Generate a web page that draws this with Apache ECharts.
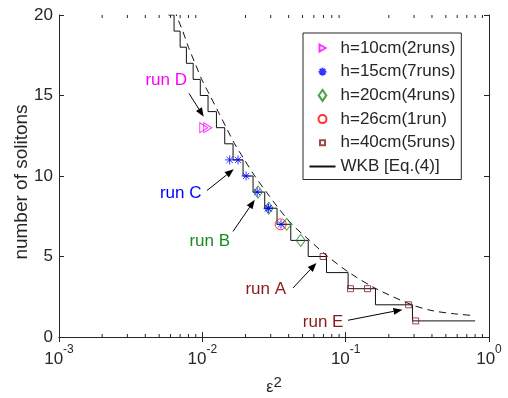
<!DOCTYPE html>
<html>
<head>
<meta charset="utf-8">
<script src="https://cdn.jsdelivr.net/npm/echarts@6/dist/echarts.min.js"></script>
<style>html,body{margin:0;padding:0;background:#fff}#c{width:508px;height:398px}</style>
</head>
<body>
<div id="c"></div>
<script>
// ---- data ----
const yMin = 0, yMax = 20;
const xTicksMinor = [0.002,0.003,0.004,0.005,0.006,0.007,0.008,0.009,
  0.02,0.03,0.04,0.05,0.06,0.07,0.08,0.09,
  0.2,0.3,0.4,0.5,0.6,0.7,0.8,0.9];
// WKB staircase: level N spans [stepLeft[i], stepRight[i]]
const stepLevels = [20,19,18,17,16,15,14,13,12,11,10,9,8,7,6,5,4,3,2,1];
const stepLeft  = [0.00579,0.00635,0.00700,0.00774,0.00863,0.00968,0.01096,0.01254,0.01433,0.01638,0.01923,0.02259,0.02725,0.0332,0.0414,0.0548,0.0735,0.104,0.1614,0.2924];
const stepRight = [0.00635,0.00700,0.00774,0.00863,0.00968,0.01096,0.01254,0.01433,0.01638,0.01923,0.02259,0.02725,0.0332,0.0414,0.0548,0.0735,0.104,0.1614,0.2924,0.8];
// dashed continuous curve
const dashX = [0.0055,0.0066,0.0073,0.0080,0.0089,0.0099,0.0113,0.0129,0.0147,0.0168,0.0197,0.0232,0.0280,0.0340,0.0422,0.0560,0.0750,0.106,0.163,0.29,0.40,0.55,0.78];
const dashY = [22.5,20,19,18,17,16,15,14,13,12,11,10,9,8,7,6,5,4,3,2.0,1.64,1.46,1.33];
// measurements
const h10x = [0.01023,0.01091];            const h10y = [13,13];
const h15x = [0.01552,0.01774,0.0202,0.02415,0.02874,0.0290,0.0354]; const h15y = [11,11,10,9,8,8,7];
const h20x = [0.02447,0.02906,0.0388,0.0486]; const h20y = [9,8,7,6];
const h26x = [0.0352];                      const h26y = [7];
const h40x = [0.0696,0.108,0.142,0.275,0.308]; const h40y = [5,3,3,2,1];
const seriesNames = ['h=10cm(2runs)','h=15cm(7runs)','h=20cm(4runs)','h=26cm(1run)','h=40cm(5runs)','WKB [Eq.(4)]'];
// annotations (data coordinates)
const annText  = ['run D','run C','run B','run A','run E'];
const annColor = ['#ff00ff','#0000ff','#1a8c1a','#8b1a1a','#8b1a1a'];
const annTextAt = [[0.0056,15.95],[0.00706,8.95],[0.01127,5.94],[0.02769,2.94],[0.0696,0.9]];
const annFrom  = [[0.00807,15.13],[0.01078,9.10],[0.01637,6.56],[0.04296,3.05],[0.1039,1.04]];
const annTo    = [[0.01023,13.68],[0.01656,10.42],[0.02321,8.52],[0.0625,4.6],[0.249,1.70]];

// ---- build ----
const FF = '"Liberation Sans", Arial, Helvetica, sans-serif';
const TC = '#262626';
const zip = (xs, ys) => xs.map((x, i) => [x, ys[i]]);
const stairs = [];
stepLevels.forEach((n, i) => { stairs.push([stepLeft[i], n]); stairs.push([stepRight[i], n]); });

const triRight = 'path://M0,0L9,5L0,10Z';
const asterisk = 'path://M0,-10L0,10M-10,0L10,0M-7,-7L7,7M-7,7L7,-7';
// legend icons drawn inside a 26x12 box (corner move-points fix the box)
const box = 'M0,0M26,12';
const legendIcons = [
  'path://' + box + 'M10,2.5L16,6L10,9.5Z',
  'path://' + box + 'M13,2L13,10M9,6L17,6M10.2,3.2L15.8,8.8M10.2,8.8L15.8,3.2',
  'path://' + box + 'M13,0.5L16.8,6L13,11.5L9.2,6Z',
  'path://' + box + 'M17,6A4,4 0 1 1 9,6A4,4 0 1 1 17,6Z',
  'path://' + box + 'M10.5,3.5L15.5,3.5L15.5,8.5L10.5,8.5Z'
];
function hollow(c){ return {color:'none', borderColor:c, borderWidth:1}; }

const chart = echarts.init(document.getElementById('c'), null, {renderer:'canvas'});
const xBase = {type:'log', logBase:10, min:0.001, max:1, splitLine:{show:false},
  axisLine:{lineStyle:{color:TC, width:1}}, axisTick:{inside:true, length:5, lineStyle:{color:TC}},
  minorTick:{show:false}};
const yBase = {type:'value', min:yMin, max:yMax, interval:5, splitLine:{show:false},
  axisLine:{show:true, lineStyle:{color:TC, width:1}}, axisTick:{show:true, inside:true, length:5, lineStyle:{color:TC}}};

const legendData = seriesNames.map((n, i) => i === 5
  ? {name:n, itemStyle:{opacity:0, color:'none', borderWidth:0}}
  : {name:n, icon:legendIcons[i]});

chart.setOption({
  animation:false,
  backgroundColor:'#fff',
  textStyle:{fontFamily:FF},
  grid:{left:59, right:19, top:15, bottom:61, containLabel:false, outerBoundsMode:'none'},
  xAxis:[
    Object.assign({}, xBase, {position:'bottom',
      name:'{e|ε}{s|2}', nameLocation:'middle', nameGap:38, nameMoveOverlap:false,
      nameTextStyle:{rich:{e:{fontSize:16, fontFamily:FF, color:TC, lineHeight:26, verticalAlign:'middle'},
                           s:{fontSize:15, fontFamily:FF, color:TC, lineHeight:10, verticalAlign:'top'}}},
      axisLabel:{margin:7, formatter:v => '{b|10}{s|' + Math.round(Math.log10(v)) + '}',
        rich:{b:{fontSize:17, fontFamily:FF, color:TC, lineHeight:30, verticalAlign:'middle'},
              s:{fontSize:12, fontFamily:FF, color:TC, lineHeight:8, verticalAlign:'top'}}}}),
    Object.assign({}, xBase, {position:'top', axisLabel:{show:false}})
  ],
  yAxis:[
    Object.assign({}, yBase, {position:'left', name:'number of solitons', nameLocation:'middle', nameGap:28, nameMoveOverlap:false,
      nameTextStyle:{fontSize:19, color:TC, fontFamily:FF, padding:[0,12,0,0]},
      axisLabel:{fontSize:17, color:TC, fontFamily:FF, margin:6}}),
    Object.assign({}, yBase, {position:'right', axisLabel:{show:false}})
  ],
  legend:{
    data:legendData, orient:'vertical', left:303, top:33,
    borderColor:TC, borderWidth:1, padding:[6,6,4,4], backgroundColor:'#fff',
    itemWidth:26, itemHeight:12, itemGap:5.7, symbolRotate:0,
    textStyle:{fontSize:17, fontFamily:FF, color:TC, lineHeight:18},
    selectedMode:false
  },
  series:[
    {type:'custom', name:'minorTicks', silent:true, data:xTicksMinor.map(v => [v, yMin]),
     encode:{x:0, y:1}, z:1,
     renderItem:(params, api) => {
       const v = api.value(0);
       const b = api.coord([v, yMin]), t = api.coord([v, yMax]);
       return {type:'group', children:[
         {type:'line', shape:{x1:b[0], y1:b[1], x2:b[0], y2:b[1]-3}, style:{stroke:TC, lineWidth:1}},
         {type:'line', shape:{x1:t[0], y1:t[1], x2:t[0], y2:t[1]+3}, style:{stroke:TC, lineWidth:1}}
       ]};
     }},
    {type:'line', name:'WKB [Eq.(4)]', data:stairs, symbol:'circle', showSymbol:false,
     lineStyle:{color:'#111', width:1}, itemStyle:{color:'#111'}, z:2, clip:true},
    {type:'line', name:'wkbContinuous', data:zip(dashX, dashY), symbol:'none', smooth:0.3,
     lineStyle:{color:'#111', width:1, type:[7,5]}, z:2, clip:true},
    {type:'scatter', name:seriesNames[0], data:zip(h10x, h10y), symbol:triRight, symbolSize:[8,10], itemStyle:hollow('#ff00ff'), z:3},
    {type:'scatter', name:seriesNames[1], data:zip(h15x, h15y), symbol:asterisk, symbolSize:9, itemStyle:hollow('#0000ff'), z:4},
    {type:'scatter', name:seriesNames[2], data:zip(h20x, h20y), symbol:'diamond', symbolSize:[9,12], itemStyle:hollow('#1a8c1a'), z:3},
    {type:'scatter', name:seriesNames[3], data:zip(h26x, h26y), symbol:'circle', symbolSize:11, itemStyle:hollow('#ff0000'), z:3},
    {type:'scatter', name:seriesNames[4], data:zip(h40x, h40y), symbol:'rect', symbolSize:6, itemStyle:hollow('#8b1a1a'), z:3},
    {type:'custom', name:'annotations', silent:true, data:annTo, encode:{x:0, y:1}, z:5, clip:false,
     renderItem:(params, api) => {
       const i = params.dataIndex;
       const f = api.coord(annFrom[i]), t = api.coord(annTo[i]), p = api.coord(annTextAt[i]);
       const ang = Math.atan2(t[1]-f[1], t[0]-f[0]);
       const L = 9, W = 3.5;
       const bx = t[0] - L*Math.cos(ang), by = t[1] - L*Math.sin(ang);
       const nx = -Math.sin(ang), ny = Math.cos(ang);
       return {type:'group', children:[
         {type:'line', shape:{x1:f[0], y1:f[1], x2:bx, y2:by}, style:{stroke:'#000', lineWidth:1}},
         {type:'polygon', shape:{points:[[t[0],t[1]],[bx+nx*W,by+ny*W],[bx-nx*W,by-ny*W]]}, style:{fill:'#000'}},
         {type:'text', x:p[0], y:p[1], style:{text:annText[i], fill:annColor[i], font:'17px ' + FF, align:'center', verticalAlign:'middle'}}
       ]};
     }}
  ]
});
</script>
</body>
</html>
